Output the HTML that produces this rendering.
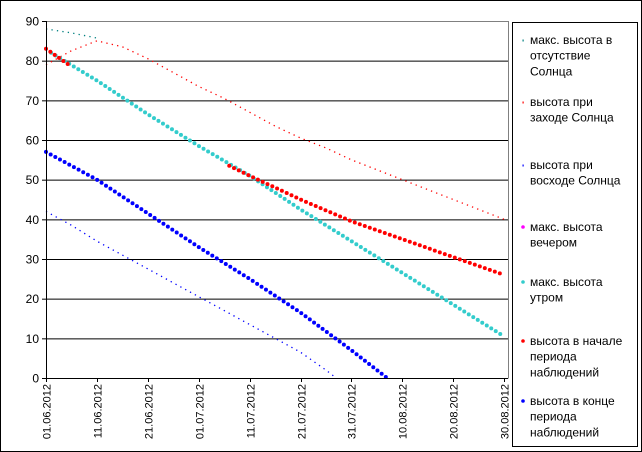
<!DOCTYPE html>
<html><head><meta charset="utf-8"><style>
body{margin:0;background:#fff}
#c{position:relative;width:642px;height:452px;overflow:hidden;font-family:"Liberation Sans",Arial,sans-serif}
</style></head><body>
<div id="c">
<svg id="s" width="642" height="452" xmlns="http://www.w3.org/2000/svg">
<rect x="0.5" y="0.5" width="641" height="451" fill="#fff" stroke="#000"/>
<g id="grid"></g>
<g id="series"></g>
<g id="axes"></g>
<rect x="512.5" y="22.5" width="125" height="424" fill="#fff" stroke="#000"/>
<g id="legend"></g>
</svg>
</div>
<script>
const yTicks=[0,10,20,30,40,50,60,70,80,90];
const xTickDays=[0,10,20,30,40,50,60,70,80,90];
const xTickLabels=["01.06.2012","11.06.2012","21.06.2012","01.07.2012","11.07.2012","21.07.2012","31.07.2012","10.08.2012","20.08.2012","30.08.2012"];
const tealDottedDays=[0,5,10];
const tealDottedVals=[88,87,85.7];
const redDottedDays=[0,5,10,15,20,25,30,35,40,45,50,55,60,65,70,75,80,85,90];
const redDottedVals=[79,82.5,85,83.5,80.5,77,73.5,70.5,67,63.5,60.5,58,55,52.5,50,47.5,45,42.5,40];
const blueDottedDays=[0,5,10,15,20,25,30,35,40,45,50,55,57];
const blueDottedVals=[42,38.5,34.5,31,27.5,24,20.5,17,13.5,10,6.5,2,0];
const tealDays=[1,10,20,30,40,50,60,70,80,90];
const tealVals=[82,75,66.5,58.5,51,42.5,34.5,26.5,18.5,10.5];
const redStartDays=[0,5];
const redStartVals=[83,78.5];
const redEndDays=[36,40,50,60,70,80,90];
const redEndVals=[53.5,51,45,39.5,35,30.5,26];
const blueDays=[0,10,20,30,40,50,60,67];
const blueVals=[57,50,41.5,33,25,16.5,7,0];

const NS="http://www.w3.org/2000/svg";
const X0=46,DX=5.09,Y0=378,H=357,L=46,R=508;
const xs=d=>X0+d*DX, ys=v=>Y0-v*H/90;
function el(t,a,p){const e=document.createElementNS(NS,t);for(const k in a)e.setAttribute(k,a[k]);p.appendChild(e);return e;}
const grid=document.getElementById('grid'),axes=document.getElementById('axes'),ser=document.getElementById('series'),leg=document.getElementById('legend');
yTicks.forEach(v=>{
  if(v>0){const g=el('line',{x1:L,x2:R,y1:ys(v)+0.5,y2:ys(v)+0.5,stroke:v==90?'#808080':'#000'},grid);
  
  }
  const tk=el('line',{x1:L-4,x2:L,y1:ys(v)+0.5,y2:ys(v)+0.5,stroke:'#000'},axes);
  
  
  const t=el('text',{x:L-7,y:ys(v)+4.5,'text-anchor':'end','font-size':'12'},axes);
  t.textContent=v;
  
  
});
el('line',{x1:L+0.5,x2:L+0.5,y1:ys(90),y2:Y0+0.5,stroke:'#000'},axes);
el('line',{x1:R+0.5,x2:R+0.5,y1:ys(90),y2:Y0+0.5,stroke:'#808080'},axes);
el('line',{x1:L,x2:R,y1:Y0+0.5,y2:Y0+0.5,stroke:'#000'},axes);
xTickDays.forEach((d,i)=>{
  const x=Math.round(xs(d))+0.5;
  const tk=el('line',{x1:x,x2:x,y1:Y0,y2:Y0+4,stroke:'#000'},axes);
  
  
  const t=el('text',{x:0,y:0,'text-anchor':'end','font-size':'11',transform:`translate(${x+4},${Y0+6}) rotate(-90)`},axes);
  t.textContent=xTickLabels[i];
  
  
});
function pts(ds,vs){return ds.map((d,i)=>xs(d)+','+ys(vs[i])).join(' ');}
function thin(ds,vs,c,name){const p=el('polyline',{points:pts(ds,vs),fill:'none',stroke:c,'stroke-width':'1.3','stroke-dasharray':'1.3 4.2'},ser);
  
  }
function thick(ds,vs,c,name){const p=el('polyline',{points:pts(ds,vs),fill:'none',stroke:c,'stroke-width':'4','stroke-linecap':'round','stroke-dasharray':'0 5.3'},ser);
  
  }
thin(tealDottedDays,tealDottedVals,'#008080','series-max-no-sun');
thin(redDottedDays,redDottedVals,'#ff0000','series-sunset');
thin(blueDottedDays,blueDottedVals,'#0000ff','series-sunrise');
thick(tealDays,tealVals,'#33cccc','series-max-morning');
thick(redStartDays,redStartVals,'#ff0000','series-start-a');
thick(redEndDays,redEndVals,'#ff0000','series-start-b');
thick(blueDays,blueVals,'#0000ff','series-end');
const legendItems=[
 {c:'#008080',y:40,small:true,lines:['макс. высота в','отсутствие','Солнца']},
 {c:'#ff0000',y:102,small:true,lines:['высота при','заходе Солнца']},
 {c:'#0000ff',y:165,small:true,lines:['высота при','восходе Солнца']},
 {c:'#ff00ff',y:227,lines:['макс. высота','вечером']},
 {c:'#33cccc',y:282,lines:['макс. высота','утром']},
 {c:'#ff0000',y:341,lines:['высота в начале','периода','наблюдений']},
 {c:'#0000ff',y:401,lines:['высота в конце','периода','наблюдений']}];
legendItems.forEach(it=>{
  const g=el('g',{},leg);
  
  
  if(it.small) el('rect',{x:522.5,y:it.y-0.5,width:1.2,height:2,fill:it.c},g);
  else el('circle',{cx:523,cy:it.y,r:1.8,fill:it.c},g);
  it.lines.forEach((ln,j)=>{const t=el('text',{x:530,y:it.y+4+j*15.7,'font-size':'12'},g);t.textContent=ln;});
});
</script>
</body></html>
